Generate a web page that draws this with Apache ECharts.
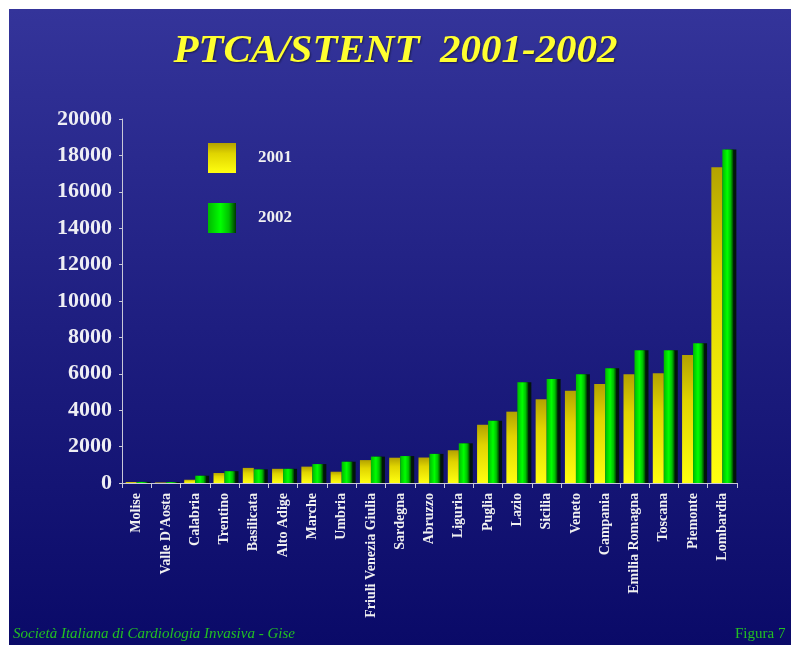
<!DOCTYPE html>
<html>
<head>
<meta charset="utf-8">
<script src="https://cdn.jsdelivr.net/npm/echarts@6/dist/echarts.min.js"></script>
<style>
html,body{margin:0;padding:0;background:#ffffff;}
#wrap{position:absolute;left:9px;top:9px;width:782px;height:636px;background:linear-gradient(to bottom,#34349a 0%,#1e1e80 50%,#0a0a68 100%);}
#chart{position:absolute;left:0;top:0;width:791px;height:645px;}
</style>
</head>
<body>
<div id="wrap"></div>
<div id="chart"></div>
<script>
const categories = ['Molise', "Valle D'Aosta", 'Calabria', 'Trentino', 'Basilicata', 'Alto Adige', 'Marche', 'Umbria', 'Friuli Venezia Giulia', 'Sardegna', 'Abruzzo', 'Liguria', 'Puglia', 'Lazio', 'Sicilia', 'Veneto', 'Campania', 'Emilia Romagna', 'Toscana', 'Piemonte', 'Lombardia'];
const values2001 = [50, 30, 180, 550, 830, 780, 900, 620, 1260, 1390, 1400, 1800, 3200, 3920, 4600, 5070, 5440, 5970, 6030, 7030, 17350];
const values2002 = [60, 50, 400, 650, 750, 780, 1040, 1170, 1450, 1480, 1600, 2180, 3420, 5530, 5710, 5970, 6300, 7300, 7300, 7680, 18330];
const yTicks = [0, 2000, 4000, 6000, 8000, 10000, 12000, 14000, 16000, 18000, 20000];
const titleText = 'PTCA/STENT  2001-2002';
const footerLeft = 'Società Italiana di Cardiologia Invasiva - Gise';
const footerRight = 'Figura 7';

const chart = echarts.init(document.getElementById('chart'), null, {renderer: 'canvas'});
const yellowGrad = new echarts.graphic.LinearGradient(0, 0, 0, 1, [
  {offset: 0, color: '#b3a200'}, {offset: 0.35, color: '#e0d400'}, {offset: 1, color: '#ffff10'}
]);
const greenGrad = new echarts.graphic.LinearGradient(0, 0, 1, 0, [
  {offset: 0, color: '#00b800'}, {offset: 0.45, color: '#00ff00'}, {offset: 0.75, color: '#00c000'}, {offset: 1, color: '#003800'}
]);
const serif = '"Liberation Serif","DejaVu Serif",serif';
chart.setOption({
  backgroundColor: 'transparent',
  animation: false,
  title: {
    text: titleText,
    left: 'center',
    top: 26,
    textStyle: {
      fontFamily: serif, fontSize: 41, fontWeight: 'bold', fontStyle: 'italic',
      color: '#ffff30', textShadowColor: '#1a1a50', textShadowBlur: 2, textShadowOffsetX: 1, textShadowOffsetY: 1
    }
  },
  legend: {
    orient: 'vertical',
    left: 208,
    top: 143,
    padding: 0,
    itemWidth: 28,
    itemHeight: 30,
    itemGap: 30,
    icon: 'rect',
    data: ['2001', '2002'],
    textStyle: {fontFamily: serif, fontSize: 17, fontWeight: 'bold', color: '#f0f0f0', padding: [0, 0, 0, 17]}
  },
  grid: {left: 122, right: 54, top: 119, bottom: 162, containLabel: false},
  xAxis: {
    type: 'category',
    data: categories,
    axisLine: {lineStyle: {color: '#c8c8d8', width: 1}},
    axisTick: {show: true, length: 5, lineStyle: {color: '#c8c8d8'}},
    axisLabel: {
      rotate: 90, interval: 0, margin: 10,
      fontFamily: serif, fontSize: 14, fontWeight: 'bold', color: '#f0f0f0'
    }
  },
  yAxis: {
    type: 'value',
    min: yTicks[0],
    max: yTicks[yTicks.length - 1],
    interval: 2000,
    splitLine: {show: false},
    axisLine: {show: true, lineStyle: {color: '#c8c8d8', width: 1}},
    axisTick: {show: true, length: 3, lineStyle: {color: '#c8c8d8'}},
    axisLabel: {fontFamily: serif, fontSize: 22, fontWeight: 'bold', color: '#eeeef4', margin: 10,
      formatter: function (v) { return String(v); }}
  },
  series: [
    {
      name: '2001', type: 'bar', data: values2001, barWidth: 11, barGap: '0%',
      itemStyle: {color: yellowGrad}
    },
    {
      name: '2002', type: 'bar', data: values2002, barWidth: 11,
      itemStyle: {color: greenGrad, shadowColor: 'rgba(0,20,0,0.9)', shadowOffsetX: 3, shadowOffsetY: 0, shadowBlur: 0}
    }
  ],
  graphic: [
    {type: 'text', left: 13, top: 627, style: {text: footerLeft, fontFamily: serif, fontStyle: 'italic', fontSize: 15, fill: '#22c022'}},
    {type: 'text', left: 735, top: 627, style: {text: footerRight, fontFamily: serif, fontSize: 15, fill: '#22c022'}}
  ]
});
</script>
</body>
</html>
